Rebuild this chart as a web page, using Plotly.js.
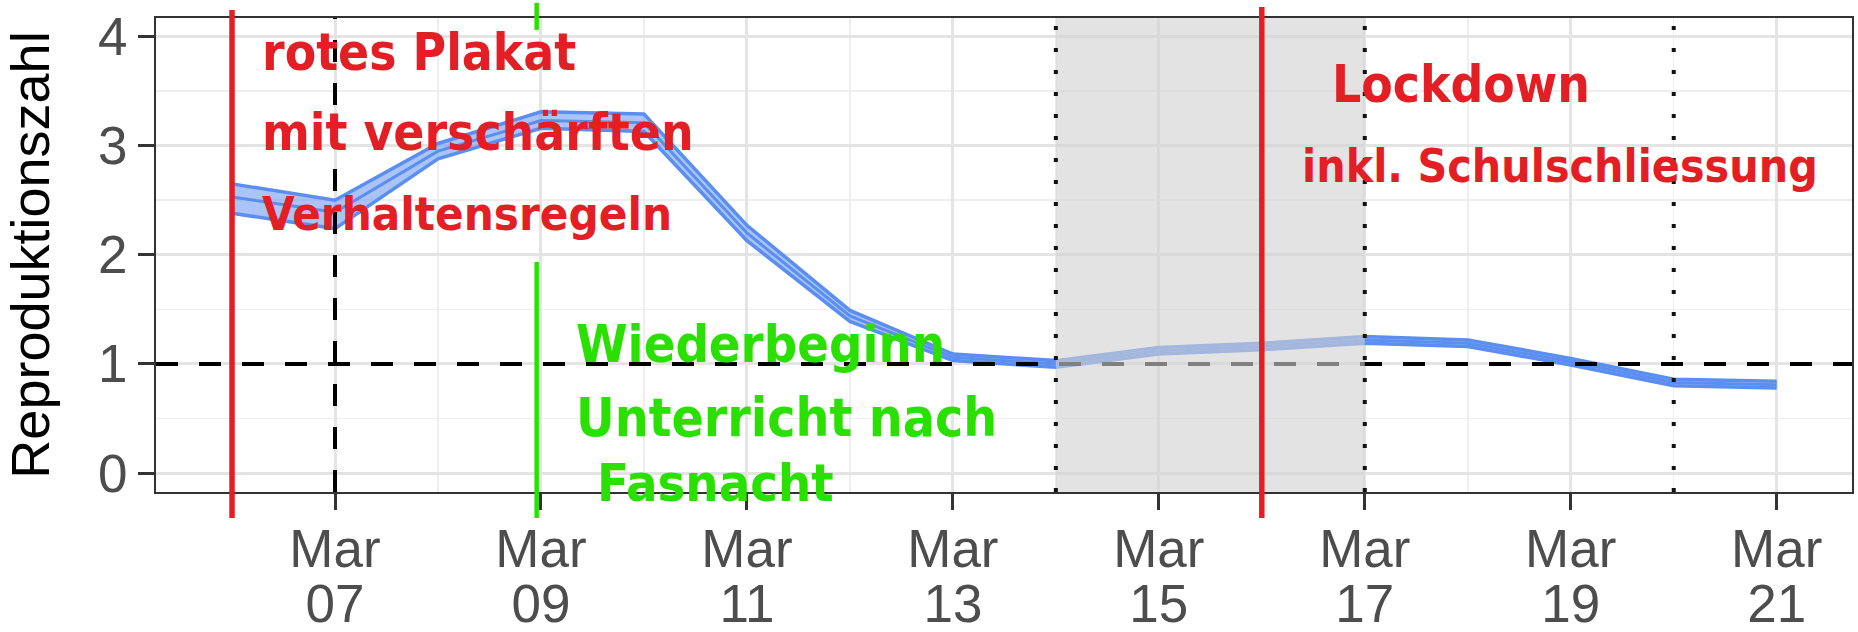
<!DOCTYPE html>
<html><head><meta charset="utf-8">
<script src="https://cdn.plot.ly/plotly-3.0.1.min.js"></script>
<style>html,body{margin:0;padding:0;background:#fff;}#chart{width:1858px;height:632px;}</style>
</head><body><div id="chart"></div>
<script>
// ---- data ----
const dates = ['2020-03-06','2020-03-07','2020-03-08','2020-03-09','2020-03-10','2020-03-11','2020-03-12','2020-03-13',
               '2020-03-14','2020-03-15','2020-03-16','2020-03-17','2020-03-18','2020-03-19','2020-03-20','2020-03-21'];
const rMedian = [2.53, 2.39, 2.95, 3.23, 3.21, 2.20, 1.44, 1.06, 1.00, 1.12, 1.16, 1.22, 1.19, 1.02, 0.83, 0.81];
const rUpper  = [2.65, 2.50, 3.02, 3.31, 3.29, 2.27, 1.49, 1.09, 1.03, 1.15, 1.19, 1.25, 1.22, 1.05, 0.86, 0.84];
const rLower  = [2.38, 2.24, 2.88, 3.16, 3.13, 2.13, 1.39, 1.03, 0.97, 1.09, 1.13, 1.19, 1.16, 0.99, 0.80, 0.78];
const xTickVals = ['2020-03-07','2020-03-09','2020-03-11','2020-03-13','2020-03-15','2020-03-17','2020-03-19','2020-03-21'];
const yTickVals = [0, 1, 2, 3, 4];
const yTitle = 'Reproduktionszahl';
const refLineY = 1;
const dashedDate = '2020-03-07';
const dottedDates = ['2020-03-14', '2020-03-17', '2020-03-20'];
const shadeStart = '2020-03-14';
const shadeEnd = '2020-03-17';
const redMarkDates = ['2020-03-06', '2020-03-16'];
const greenMarkDate = '2020-03-08 23:00';
const redNotesLeft = ['rotes Plakat', 'mit verschärften', 'Verhaltensregeln'];
const greenNotes = ['Wiederbeginn', 'Unterricht nach', 'Fasnacht'];
const redNotesRight = ['Lockdown', 'inkl. Schulschliessung'];

// ---- styling ----
const RED = '#e31e24', GREEN = '#2ae000', BLUE = '#5a8ef0';
const FONT = 'Liberation Sans, Arial, Helvetica, sans-serif';
const HAND = 'DejaVu Sans Condensed, DejaVu Sans, sans-serif';
const xRange = ['2020-03-05 06:17', '2020-03-21 17:33'];
const yRange = [-0.174, 4.17];

const traces = [
  {x: dates, y: rLower, type: 'scatter', mode: 'lines', line: {color: BLUE, width: 3.5}, hoverinfo: 'skip'},
  {x: dates, y: rUpper, type: 'scatter', mode: 'lines', line: {color: BLUE, width: 3.5},
   fill: 'tonexty', fillcolor: 'rgba(100,148,240,0.55)', hoverinfo: 'skip'},
  {x: dates, y: rMedian, type: 'scatter', mode: 'lines', line: {color: BLUE, width: 3}, hoverinfo: 'skip'}
];

const shapes = [];
shapes.push({type: 'line', layer: 'above', xref: 'paper', x0: 0, x1: 1, yref: 'y', y0: refLineY, y1: refLineY,
             line: {color: '#000', width: 4, dash: '22px,21px'}});
shapes.push({type: 'line', layer: 'above', xref: 'x', x0: dashedDate, x1: dashedDate, yref: 'paper', y0: 0, y1: 1,
             line: {color: '#000', width: 4, dash: '22px,21px'}});
shapes.push({type: 'rect', layer: 'above', xref: 'x', x0: shadeStart, x1: shadeEnd, yref: 'paper', y0: 0, y1: 1,
             fillcolor: 'rgba(210,210,210,0.61)', line: {width: 0}});
dottedDates.forEach(d => shapes.push({type: 'line', layer: 'above', xref: 'x', x0: d, x1: d, yref: 'paper', y0: 0, y1: 1,
             line: {color: '#111', width: 4, dash: '4px,18px'}}));
shapes.push({type: 'line', layer: 'above', xref: 'x', x0: redMarkDates[0], x1: redMarkDates[0], yref: 'paper', y0: -0.055, y1: 1.017,
             line: {color: RED, width: 5.5}});
shapes.push({type: 'line', layer: 'above', xref: 'x', x0: redMarkDates[1], x1: redMarkDates[1], yref: 'paper', y0: -0.055, y1: 1.023,
             line: {color: RED, width: 5.5}});
shapes.push({type: 'line', layer: 'above', xref: 'x', x0: greenMarkDate, x1: greenMarkDate, yref: 'paper', y0: 0.975, y1: 1.032,
             line: {color: GREEN, width: 4.5}});
shapes.push({type: 'line', layer: 'above', xref: 'x', x0: greenMarkDate, x1: greenMarkDate, yref: 'paper', y0: -0.055, y1: 0.485,
             line: {color: GREEN, width: 4.5}});

function note(text, x, y, color, size) {
  return {text: text, x: x, y: y, xref: 'x', yref: 'y', xanchor: 'left', yanchor: 'middle', showarrow: false,
          font: {family: HAND, size: size, color: color, weight: 'bold'}};
}
const annotations = [
  note(redNotesLeft[0], '2020-03-06 06:30', 3.85, RED, 51),
  note(redNotesLeft[1], '2020-03-06 06:30', 3.12, RED, 51),
  note(redNotesLeft[2], '2020-03-06 06:30', 2.38, RED, 47),
  note(greenNotes[0], '2020-03-09 07:40', 1.18, GREEN, 52),
  note(greenNotes[1], '2020-03-09 07:40', 0.51, GREEN, 53),
  note(greenNotes[2], '2020-03-09 12:30', -0.095, GREEN, 52),
  note(redNotesRight[0], '2020-03-16 15:50', 3.56, RED, 51),
  note(redNotesRight[1], '2020-03-16 09:00', 2.81, RED, 46)
];

const layout = {
  width: 1858, height: 632,
  margin: {l: 156, r: 6, t: 18, b: 140},
  paper_bgcolor: '#fff', plot_bgcolor: '#fff',
  showlegend: false,
  font: {family: FONT},
  xaxis: {
    type: 'date', range: xRange, tickmode: 'array', tickvals: xTickVals, tickformat: '%b',
    tickfont: {size: 53, color: '#4d4d4d'}, ticks: 'outside', ticklen: 16, tickwidth: 3, tickcolor: '#333',
    ticklabelstandoff: -7,
    showgrid: true, gridcolor: '#e4e4e4', gridwidth: 3,
    minor: {dtick: 86400000, tick0: '2020-03-06', showgrid: true, gridcolor: '#eeeeee', gridwidth: 1.5, ticks: ''},
    showline: true, linecolor: '#333', linewidth: 2, mirror: true, zeroline: false, fixedrange: true
  },
  xaxis2: {
    type: 'date', range: xRange, overlaying: 'x', anchor: 'y', side: 'bottom', tickmode: 'array', tickvals: xTickVals,
    tickformat: '%d', tickfont: {size: 53, color: '#4d4d4d'}, ticks: '', showgrid: false, showline: false,
    zeroline: false, ticklabelstandoff: 76, fixedrange: true
  },
  yaxis: {
    range: yRange, tickmode: 'array', tickvals: yTickVals, tickfont: {size: 53, color: '#4d4d4d'},
    ticks: 'outside', ticklen: 16, tickwidth: 3, tickcolor: '#333',
    showgrid: true, gridcolor: '#e4e4e4', gridwidth: 3,
    minor: {dtick: 0.5, tick0: 0, showgrid: true, gridcolor: '#eeeeee', gridwidth: 1.5, ticks: ''},
    showline: true, linecolor: '#333', linewidth: 2, mirror: true, zeroline: false, fixedrange: true,
    title: {text: yTitle, font: {size: 54, color: '#000'}}
  },
  shapes: shapes,
  annotations: annotations
};
// helper trace so that xaxis2 is drawn
traces.push({x: [dates[0]], y: [null], xaxis: 'x2', yaxis: 'y', type: 'scatter', mode: 'lines', hoverinfo: 'skip'});

Plotly.newPlot('chart', traces, layout, {staticPlot: true, displayModeBar: false});
</script>
</body></html>
